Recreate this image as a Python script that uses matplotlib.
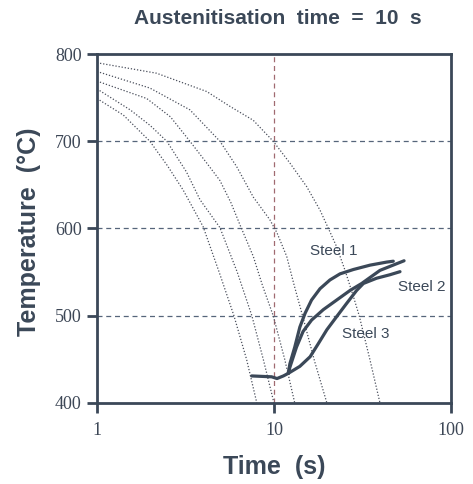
import matplotlib
matplotlib.use("Agg")
import matplotlib.pyplot as plt

# Cooling curves (dotted): time (s), temperature (C)
cool1_t = [1.0, 2.17, 4.17, 5.64, 7.64, 9.9, 12.3, 15.3, 18.2, 20.3, 22.6, 25.2, 28.1, 30.3, 34.8, 39.7]
cool1_T = [790, 778, 757, 740, 724, 700, 675, 648, 621, 600, 579, 552, 522, 500, 450, 400]
cool2_t = [1.0, 1.99, 3.35, 4.95, 6.15, 7.64, 9.48, 10.4, 11.8, 13.0, 14.5, 17.0, 19.9]
cool2_T = [780, 761, 736, 700, 671, 636, 610, 595, 568, 535, 500, 447, 400]
cool3_t = [1.0, 1.91, 2.6, 3.35, 4.17, 4.95, 5.7, 6.43, 7.64, 8.6, 9.9, 11.5, 13.1]
cool3_T = [769, 749, 728, 700, 675, 655, 630, 604, 568, 535, 500, 450, 400]
cool4_t = [1.0, 1.54, 2.0, 2.48, 3.2, 3.82, 4.95, 6.2, 7.5, 8.7, 10.0]
cool4_T = [760, 736, 718, 700, 665, 633, 601, 550, 500, 450, 400]
cool5_t = [1.0, 1.41, 1.99, 2.5, 3.07, 3.98, 4.9, 5.94, 7.0, 8.0]
cool5_T = [749, 730, 700, 672, 644, 602, 550, 500, 450, 400]

# Steel transformation curves
plateau_t = [7.48, 9.7, 10.4, 11.3, 12.05]
plateau_T = [431, 430, 428, 431, 434]
steel1_t = [12.05, 12.3, 13.1, 14.0, 15.0, 16.3, 18.2, 20.7, 23.6, 28.1, 34.9, 43.3, 47.2]
steel1_T = [434, 445, 464, 487, 503, 518, 531, 541, 548, 553, 558, 561.5, 562.5]
steel2_t = [12.05, 12.3, 13.4, 14.6, 16.3, 19.0, 22.6, 26.9, 31.3, 39.7, 54.3]
steel2_T = [434, 441, 464, 482, 495, 507, 518, 529, 537, 552, 563]
steel3_t = [12.05, 14.0, 16.0, 17.8, 19.9, 22.6, 25.7, 29.3, 32.0, 38.0, 45.2, 51.5]
steel3_T = [434, 442, 453, 468, 484, 499, 514, 529, 537, 543, 547, 550.5]

labels = ["Steel 1", "Steel 2", "Steel 3"]
label_t = [21.8, 68.6, 33.1]
label_T = [574, 533, 479]

x_ticks = [1, 10, 100]
y_ticks = [400, 500, 600, 700, 800]
grid_y = [500, 600, 700]
grid_x = [10]

dark = "#3b4858"

fig = plt.figure(figsize=(4.73, 4.84), dpi=100)
ax = fig.add_axes([0.205, 0.1674, 0.7485, 0.721])
ax.set_xscale("log")
ax.set_xlim(1, 100)
ax.set_ylim(400, 800)

for y in grid_y:
    ax.axhline(y, color="#56657a", lw=0.9, ls=(0, (4, 3)), zorder=1)
for x in grid_x:
    ax.axvline(x, color="#a06a70", lw=0.9, ls=(0, (4, 3)), zorder=1)

for t, T in [(cool1_t, cool1_T), (cool2_t, cool2_T), (cool3_t, cool3_T),
             (cool4_t, cool4_T), (cool5_t, cool5_T)]:
    ax.plot(t, T, color="#4a4f5c", lw=0.9, ls=(0, (1, 1.5)), zorder=2)

for t, T in [(plateau_t, plateau_T), (steel1_t, steel1_T),
             (steel2_t, steel2_T), (steel3_t, steel3_T)]:
    ax.plot(t, T, color=dark, lw=2.3, solid_capstyle="round",
            solid_joinstyle="round", zorder=3)

for lab, t, T in zip(labels, label_t, label_T):
    ax.text(t, T, lab, fontsize=11, color=dark, ha="center", va="center",
            family="Liberation Sans")

ax.set_xticks(x_ticks)
ax.set_xticklabels([str(v) for v in x_ticks])
ax.set_yticks(y_ticks)
ax.set_yticklabels([str(v) for v in y_ticks])
ax.minorticks_off()
ax.tick_params(axis="both", direction="out", length=7, width=2, color=dark,
               labelsize=13, labelcolor="#3d4756", pad=4)
ax.tick_params(axis="x", pad=7)
for lbl in ax.get_xticklabels() + ax.get_yticklabels():
    lbl.set_family("Liberation Serif")
for s in ax.spines.values():
    s.set_color(dark)
    s.set_linewidth(2.0)

ax.set_xlabel("Time  (s)", fontsize=18, fontweight="bold", color=dark,
              family="Liberation Sans", labelpad=11)
ax.set_ylabel("Temperature  (°C)", fontsize=18, fontweight="bold", color=dark,
              family="Liberation Sans")
ax.yaxis.set_label_coords(-0.157, 0.49)
fig.text(0.587, 0.961, "Austenitisation  time  =  10  s", fontsize=15,
         fontweight="bold", color=dark, ha="center", va="center",
         family="Liberation Sans")

fig.savefig("out.png", dpi=100)
